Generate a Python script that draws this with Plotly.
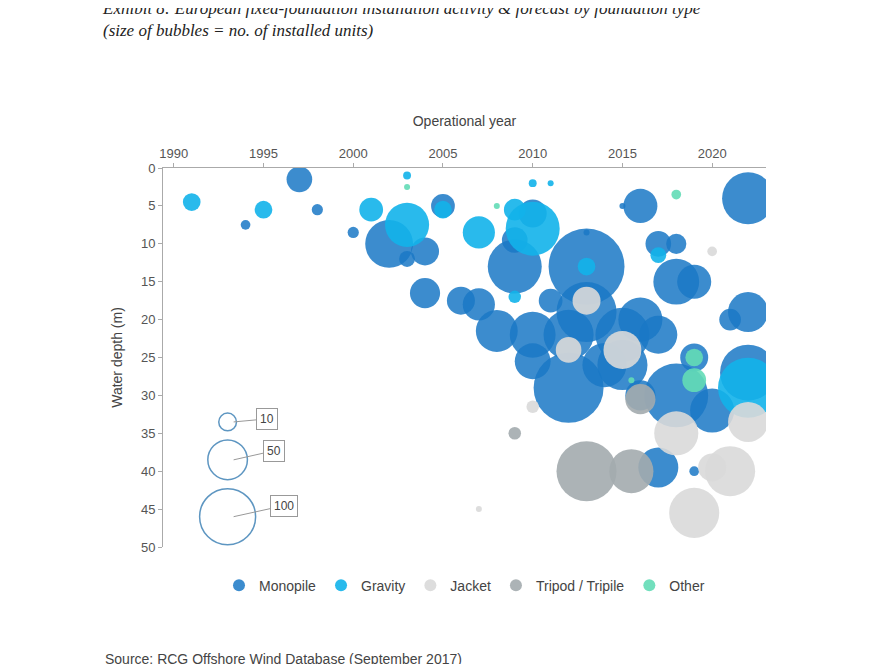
import plotly.graph_objects as go

# (operational year, water depth m, installed units) per foundation type
mono_year = [1997, 1994, 1998, 2000, 2002, 2003, 2004, 2005, 2004, 2006, 2007, 2008, 2009, 2010, 2009, 2010,
             2010, 2011, 2012, 2012, 2013, 2013, 2014, 2015, 2016, 2015, 2016, 2017, 2017, 2018, 2018, 2019,
             2018, 2019, 2017, 2020, 2021, 2022, 2022, 2022, 2016, 2019, 2013, 2015]
mono_depth = [1.5, 7.5, 5.5, 8.5, 10, 12, 11, 5, 16.5, 17.5, 18, 21.5, 9.5, 6, 13, 22,
              25.5, 17.5, 29, 22, 13, 19, 26, 22, 5, 26, 20, 22, 10, 10, 15, 15,
              30, 25, 39.5, 32, 20, 19, 4, 27, 30, 40, 8.5, 5]
mono_units = [21, 3, 4, 4, 73, 8, 25, 18, 29, 25, 33, 56, 21, 25, 93, 67,
              41, 18, 156, 80, 184, 115, 62, 93, 37, 80, 62, 46, 21, 13, 67, 37,
              130, 25, 51, 62, 15, 51, 86, 100, 29, 3, 1, 1]

grav_year = [1991, 1995, 2001, 2003, 2003, 2005, 2007, 2009, 2010, 2011, 2010, 2009, 2013, 2017, 2022]
grav_depth = [4.5, 5.5, 5.5, 7.5, 1, 5.5, 8.5, 5.5, 2, 2, 8, 17, 13, 11.5, 29]
grav_units = [10, 10, 18, 62, 2, 10, 33, 15, 2, 1, 93, 5, 10, 8, 115]

jack_year = [2013, 2012, 2015, 2010, 2007, 2018, 2019, 2021, 2022, 2020, 2020]
jack_depth = [17.5, 24, 24, 31.5, 45, 35, 45.5, 40, 33.5, 11, 39.5]
jack_units = [25, 21, 46, 5, 1, 62, 80, 80, 51, 3, 25]

trip_year = [2009, 2013, 2015.5, 2016]
trip_depth = [35, 40, 40, 30.5]
trip_units = [5, 115, 62, 29]

other_year = [2003, 2008, 2018, 2019, 2019, 2015.5]
other_depth = [2.5, 5, 3.5, 25, 28, 28]
other_units = [1, 1, 3, 10, 18, 1]

legend_units = [10, 50, 100]
legend_depth = [33.5, 38.5, 46]
legend_year = [1993, 1993, 1993]

SIZEREF = 2 * 100 / 56 ** 2

series = [
    ("Monopile", mono_year, mono_depth, mono_units, "#1a78c6", 0.85),
    ("Gravity", grav_year, grav_depth, grav_units, "#12b2ea", 0.9),
    ("Jacket", jack_year, jack_depth, jack_units, "#d9d9d9", 0.9),
    ("Tripod / Tripile", trip_year, trip_depth, trip_units, "#a3abae", 0.9),
    ("Other", other_year, other_depth, other_units, "#63dbb6", 0.9),
]

fig = go.Figure()
for name, xs, ys, us, col, op in series:
    fig.add_trace(go.Scatter(
        x=xs, y=ys, mode="markers", name=name,
        marker=dict(size=us, sizemode="area", sizeref=SIZEREF, sizemin=3,
                    color=col, opacity=op, line=dict(width=0)),
    ))

fig.add_trace(go.Scatter(
    x=legend_year, y=legend_depth, mode="markers", showlegend=False, hoverinfo="skip",
    marker=dict(size=legend_units, sizemode="area", sizeref=SIZEREF,
                color="rgba(0,0,0,0)", line=dict(width=1.5, color="#1a6aa8")),
))

for u, d, dx, dy in zip(legend_units, legend_depth, [33, 40, 50], [-3, -9, -11]):
    fig.add_annotation(x=1993, y=d, text=str(u), showarrow=True, arrowhead=0,
                       arrowcolor="#999999", arrowwidth=1, ax=dx, ay=dy,
                       xshift=6, bordercolor="#999999", borderwidth=1, borderpad=3,
                       bgcolor="white", font=dict(size=12, color="#444"))

fig.add_annotation(
    text="<i>Exhibit 8: European fixed-foundation installation activity & forecast by foundation type<br>(size of bubbles = no. of installed units)</i>",
    xref="paper", yref="paper", x=-0.105, y=1.45, xanchor="left", yanchor="top",
    showarrow=False, align="left",
    font=dict(family="Liberation Serif", size=17, color="#222"),
)
fig.add_annotation(
    text="Source: RCG Offshore Wind Database (September 2017)",
    xref="paper", yref="paper", x=-0.1, y=-0.27, xanchor="left", yanchor="top",
    showarrow=False, font=dict(size=14, color="#444"),
)

fig.update_layout(
    width=893, height=664, plot_bgcolor="white", paper_bgcolor="white",
    margin=dict(l=155, r=135, t=160, b=125),
    font=dict(family="Liberation Sans", size=13, color="#555"),
    legend=dict(orientation="h", x=0.5, xanchor="center", y=-0.06, yanchor="top",
                font=dict(size=14, color="#444"), itemsizing="constant"),
    xaxis=dict(side="top", range=[1989.4, 2023], tickvals=[1990, 1995, 2000, 2005, 2010, 2015, 2020],
               showgrid=False, zeroline=False, showline=True, linecolor="#aaa",
               ticks="outside", tickcolor="#aaa", ticklen=4,
               title=dict(text="Operational year", font=dict(size=14, color="#444"))),
    yaxis=dict(range=[50, 0], dtick=5, showgrid=False, zeroline=False, showline=True,
               linecolor="#aaa", ticks="outside", tickcolor="#aaa", ticklen=4,
               title=dict(text="Water depth (m)", font=dict(size=14, color="#444"))),
)

fig.write_html("out.html")
